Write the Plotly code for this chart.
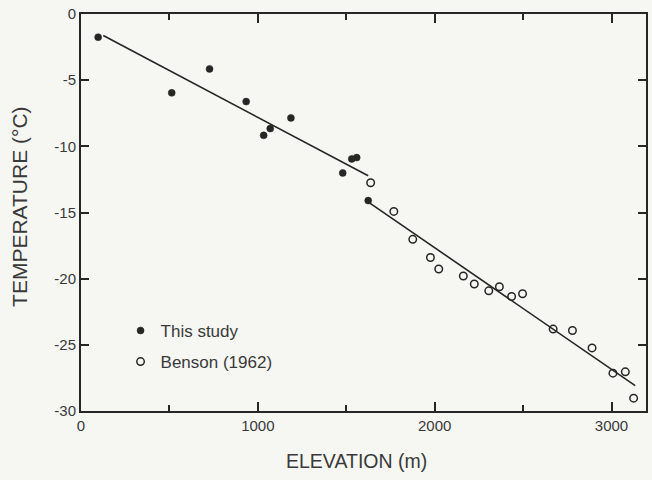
import plotly.graph_objects as go

# ---- data ----
study_x = [97, 513, 727, 934, 1033, 1070, 1187, 1480, 1531, 1559, 1624]
study_y = [-1.75, -5.96, -4.15, -6.62, -9.17, -8.66, -7.85, -12.01, -10.95, -10.85, -14.1]

benson_x = [1638, 1769, 1876, 1976, 2023, 2162, 2224, 2306, 2366, 2435, 2497,
            2670, 2779, 2890, 3008, 3078, 3125]
benson_y = [-12.75, -14.92, -17.03, -18.4, -19.27, -19.8, -20.4, -20.92, -20.61, -21.35, -21.14,
            -23.81, -23.92, -25.23, -27.14, -27.04, -29.03]

fit1_x = [126, 1624]
fit1_y = [-1.63, -12.22]
fit2_x = [1619, 3134]
fit2_y = [-14.16, -28.08]

x_range = [0, 3195]
y_range = [-30, 0]
x_ticks = [0, 1000, 2000, 3000]
x_ticktext = ["0", "1000", "2000", "3000"]
y_ticks = [0, -5, -10, -15, -20, -25, -30]
y_ticktext = ["0", "-5", "-10", "-15", "-20", "-25", "-30"]

INK = "#262626"
TXT = "#3a3a3a"
BG = "#f6f6f3"
FONT = "Liberation Sans, Arial, Helvetica, sans-serif"

fig = go.Figure()
fig.add_trace(go.Scatter(x=fit1_x, y=fit1_y, mode="lines",
                         line=dict(color=INK, width=1.6), showlegend=False, hoverinfo="skip"))
fig.add_trace(go.Scatter(x=fit2_x, y=fit2_y, mode="lines",
                         line=dict(color=INK, width=1.6), showlegend=False, hoverinfo="skip"))
fig.add_trace(go.Scatter(x=study_x, y=study_y, mode="markers", name="This study",
                         legendgroup="a", cliponaxis=False,
                         marker=dict(symbol="circle", size=7, color=INK,
                                     line=dict(color=INK, width=0.5))))
fig.add_trace(go.Scatter(x=benson_x, y=benson_y, mode="markers", name="Benson (1962)",
                         legendgroup="b", cliponaxis=False,
                         marker=dict(symbol="circle-open", size=7.5, color=INK,
                                     line=dict(color=INK, width=1.5))))

fig.update_layout(
    width=652, height=480,
    margin=dict(l=81, r=4, t=14, b=69),
    paper_bgcolor=BG, plot_bgcolor=BG,
    font=dict(family=FONT, color=TXT),
    showlegend=True,
    xaxis=dict(
        range=x_range, tickmode="array", tickvals=x_ticks, ticktext=x_ticktext,
        showgrid=False, zeroline=False,
        showline=True, linecolor=INK, linewidth=2, mirror="ticks",
        ticks="inside", ticklen=9, tickwidth=2, tickcolor=INK,
        tickfont=dict(family=FONT, size=15, color=TXT),
        minor=dict(dtick=500, tick0=0, ticks="inside", ticklen=6,
                   tickcolor=INK, tickwidth=2, showgrid=False),
    ),
    yaxis=dict(
        range=y_range, tickmode="array", tickvals=y_ticks, ticktext=y_ticktext,
        showgrid=False, zeroline=False,
        showline=True, linecolor=INK, linewidth=2, mirror="ticks",
        ticks="inside", ticklen=8, tickwidth=2, tickcolor=INK,
        tickfont=dict(family=FONT, size=15, color=TXT),
    ),
    legend=dict(x=0.07, y=0.247, xanchor="left", yanchor="top",
                bgcolor="rgba(0,0,0,0)", borderwidth=0,
                font=dict(family=FONT, size=17, color=TXT),
                tracegroupgap=6, itemwidth=30),
    annotations=[
        dict(text="ELEVATION (m)", xref="paper", yref="paper", x=0.487, y=0,
             xanchor="center", yanchor="middle", yshift=-50, showarrow=False,
             font=dict(family=FONT, size=19.5, color=TXT)),
        dict(text="TEMPERATURE (°C)", xref="paper", yref="paper", x=0, y=0.514,
             xanchor="center", yanchor="middle", xshift=-61, textangle=-90,
             showarrow=False, font=dict(family=FONT, size=21, color=TXT)),
    ],
)

fig.write_html("out.html")
